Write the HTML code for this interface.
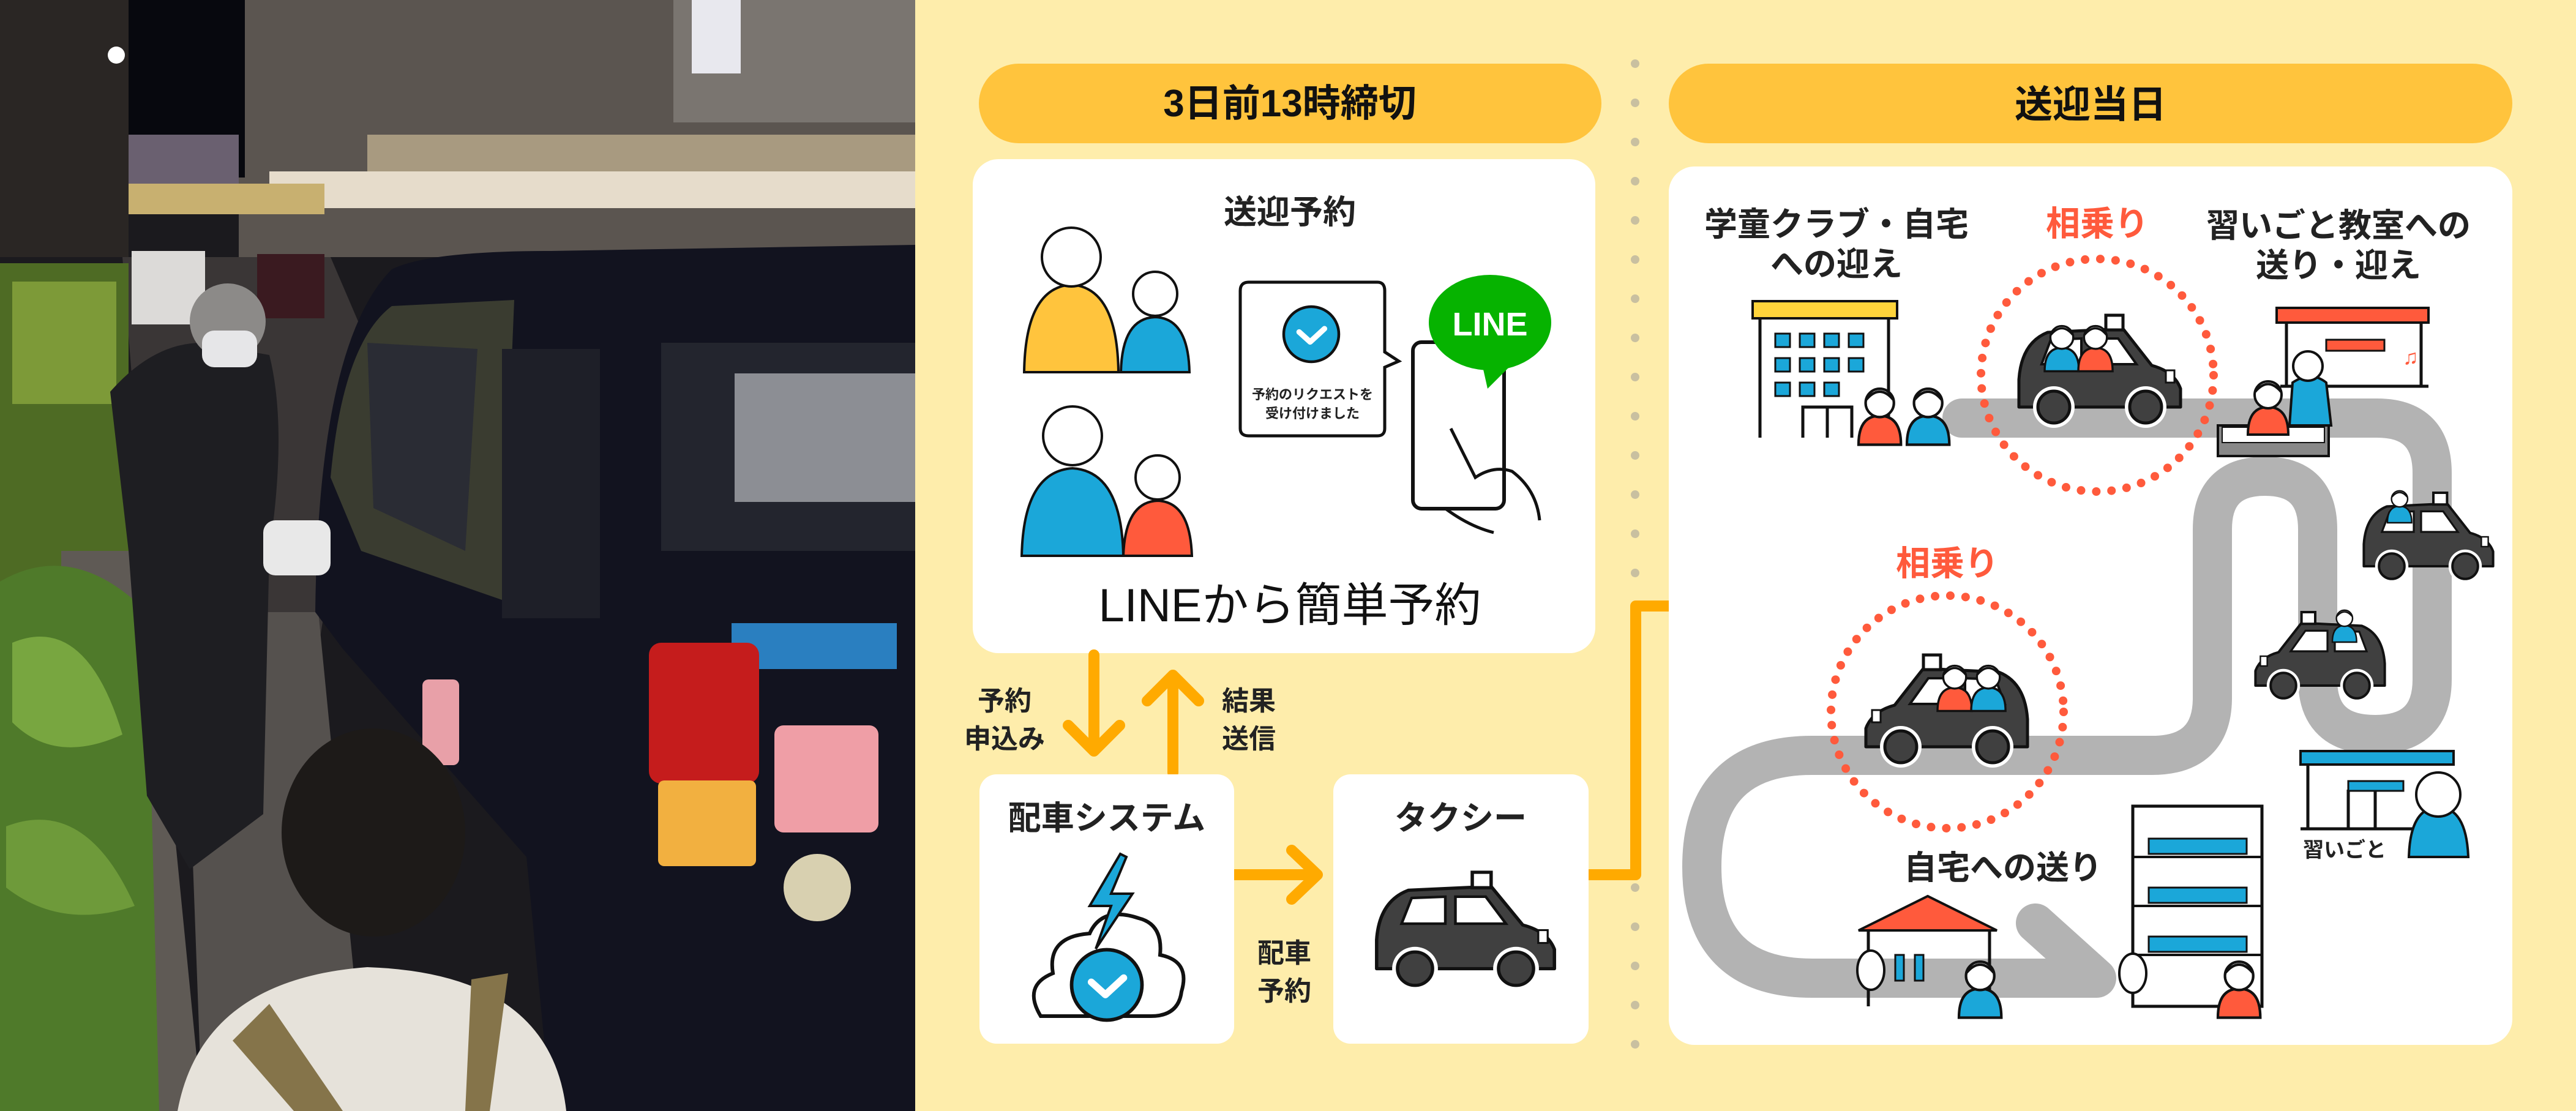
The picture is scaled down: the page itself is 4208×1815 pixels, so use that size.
<!DOCTYPE html>
<html><head><meta charset="utf-8"><style>
html,body{margin:0;padding:0;width:4208px;height:1815px;overflow:hidden;background:#FEEDAB}
svg{display:block}
text{font-family:"Liberation Sans","Noto Sans CJK JP",sans-serif;font-weight:bold}
text.n{font-weight:normal}
</style></head><body>
<svg width="4208" height="1815" viewBox="0 0 4208 1815" xmlns="http://www.w3.org/2000/svg">
<defs>
<g id="car">
 <path d="M8,150 L8,105 Q12,45 55,28 L178,22 L225,82 Q262,92 272,120 L272,150 Z" fill="#404040" stroke="#111" stroke-width="5" stroke-linejoin="round"/>
 <rect x="150" y="0" width="28" height="24" fill="#fff" stroke="#111" stroke-width="5"/>
 <path d="M60,40 L110,38 L110,80 L45,80 Z" fill="#fff" stroke="#111" stroke-width="4"/>
 <path d="M125,38 L170,38 L200,80 L125,80 Z" fill="#fff" stroke="#111" stroke-width="4"/>
 <rect x="248" y="90" width="14" height="20" fill="#fff" stroke="#111" stroke-width="3"/>
 <circle cx="65" cy="150" r="34" fill="#fff"/><circle cx="65" cy="150" r="26" fill="#404040" stroke="#111" stroke-width="5"/>
 <circle cx="215" cy="150" r="34" fill="#fff"/><circle cx="215" cy="150" r="26" fill="#404040" stroke="#111" stroke-width="5"/>
</g>
<g id="kid">
 <path d="M0,90 Q0,45 33,45 Q66,45 66,90 Z" fill="currentColor" stroke="#111" stroke-width="4"/>
 <circle cx="33" cy="25" r="22" fill="#fff" stroke="#111" stroke-width="4"/>
 <path d="M12,20 Q33,-5 54,20" fill="none" stroke="#111" stroke-width="4"/>
</g>
<g id="check"><circle r="50" fill="#1BA7D9" stroke="#111" stroke-width="5"/><path d="M-22,-4 L-2,14 L24,-10" fill="none" stroke="#fff" stroke-width="10" stroke-linecap="round" stroke-linejoin="round"/></g>
</defs>

<!-- PHOTO -->
<rect x="0" y="0" width="1495" height="1815" fill="#1b1a1e"/>
<rect x="390" y="0" width="1105" height="420" fill="#5b5550"/>
<rect x="1100" y="0" width="395" height="200" fill="#7a7570"/>
<rect x="1130" y="0" width="80" height="120" fill="#e8e8ee"/>
<rect x="600" y="220" width="895" height="120" fill="#a89a80"/>
<rect x="440" y="280" width="1055" height="60" fill="#e6dccb"/>
<rect x="200" y="0" width="200" height="290" fill="#07080e"/>
<rect x="210" y="220" width="180" height="120" fill="#6a6070"/>
<rect x="200" y="300" width="330" height="50" fill="#c8b070"/>
<rect x="0" y="0" width="210" height="420" fill="#2a2624"/>
<circle cx="190" cy="90" r="14" fill="#fff"/>
<polygon points="200,420 540,420 600,560 520,1060 250,1060" fill="#3a3636"/>
<rect x="215" y="410" width="120" height="120" fill="#dcdad8"/>
<rect x="420" y="415" width="110" height="105" fill="#3a1a20"/>
<rect x="0" y="430" width="210" height="560" fill="#4e6b24"/>
<rect x="20" y="460" width="170" height="200" fill="#7d9a38"/>
<polygon points="100,900 240,900 330,1815 100,1815" fill="#5f5a55"/>
<polygon points="300,1000 520,1000 600,1815 330,1815" fill="#55514e"/>
<path d="M0,950 Q120,880 240,1000 L260,1815 L0,1815 Z" fill="#4f7a2a"/>
<path d="M20,1050 Q140,1000 200,1200 Q90,1250 20,1180 Z" fill="#78a640"/>
<path d="M10,1350 Q140,1300 220,1480 Q100,1520 10,1450 Z" fill="#6e9a3a"/>
<path d="M515,1000 Q520,560 640,440 Q700,410 900,410 L1495,400 L1495,1815 L900,1815 L860,1400 L560,1060 Z" fill="#12131f"/>
<path d="M540,780 Q560,560 640,500 L840,490 L820,980 L590,900 Z" fill="#3a3c30"/>
<path d="M600,560 L780,570 L760,900 L610,830 Z" fill="#2a2c34"/>
<rect x="820" y="570" width="160" height="440" fill="#1e1f28"/>
<rect x="1080" y="560" width="415" height="340" fill="#23252e"/>
<rect x="1200" y="610" width="295" height="210" fill="#8c8e94"/>
<rect x="1195" y="1018" width="270" height="75" fill="#2a7fc0"/>
<rect x="1060" y="1050" width="180" height="230" rx="20" fill="#c51c1c"/>
<rect x="1075" y="1275" width="160" height="140" rx="10" fill="#f2b040"/>
<rect x="1265" y="1185" width="170" height="175" rx="15" fill="#ef9ea6"/>
<circle cx="1335" cy="1450" r="55" fill="#d8d0b0"/>
<rect x="690" y="1110" width="60" height="140" rx="10" fill="#e8a0a8"/>
<path d="M180,640 Q250,560 330,560 L440,580 Q470,700 440,900 L430,1330 L310,1420 L240,1300 L210,900 Z" fill="#1e1e22"/>
<circle cx="372" cy="525" r="62" fill="#8c8a88"/>
<rect x="330" y="540" width="90" height="60" rx="20" fill="#e6e6e8"/>
<rect x="430" y="850" width="110" height="90" rx="20" fill="#e8e8e8"/>
<path d="M290,1815 Q330,1600 600,1580 Q900,1590 925,1815 Z" fill="#e6e2da"/>
<path d="M380,1700 L440,1640 L560,1815 L480,1815 Z" fill="#85744a"/>
<path d="M770,1600 L830,1590 L800,1815 L760,1815 Z" fill="#85744a"/>
<ellipse cx="610" cy="1360" rx="150" ry="170" fill="#1d1a18"/>

<!-- DIAGRAM -->
<rect x="1495" y="0" width="2713" height="1815" fill="#FEEDAB"/>
<g fill="#C9C0A0">
<circle cx="2671" cy="104" r="7"/><circle cx="2671" cy="168" r="7"/><circle cx="2671" cy="232" r="7"/><circle cx="2671" cy="296" r="7"/><circle cx="2671" cy="360" r="7"/><circle cx="2671" cy="424" r="7"/><circle cx="2671" cy="488" r="7"/><circle cx="2671" cy="552" r="7"/><circle cx="2671" cy="616" r="7"/><circle cx="2671" cy="680" r="7"/><circle cx="2671" cy="744" r="7"/><circle cx="2671" cy="808" r="7"/><circle cx="2671" cy="872" r="7"/><circle cx="2671" cy="936" r="7"/><circle cx="2671" cy="1450" r="7"/><circle cx="2671" cy="1514" r="7"/><circle cx="2671" cy="1578" r="7"/><circle cx="2671" cy="1642" r="7"/><circle cx="2671" cy="1706" r="7"/>
</g>
<rect x="1599" y="104" width="1017" height="130" rx="65" fill="#FFC43D"/>
<text x="2107" y="190" font-size="62" text-anchor="middle" fill="#111">3日前13時締切</text>
<rect x="2726" y="104" width="1378" height="130" rx="65" fill="#FFC43D"/>
<text x="3415" y="192" font-size="62" text-anchor="middle" fill="#111">送迎当日</text>

<rect x="1589" y="260" width="1017" height="807" rx="42" fill="#fff"/>
<text x="2107" y="365" font-size="54" text-anchor="middle" fill="#222">送迎予約</text>
<text class="n" x="2107" y="1015" font-size="76" text-anchor="middle" fill="#111">LINEから簡単予約</text>
<g stroke="#111" stroke-width="4">
<path d="M1673,608 Q1675,470 1750,465 Q1825,470 1827,608 Z" fill="#FFC43D"/>
<circle cx="1750" cy="420" r="48" fill="#fff"/>
<path d="M1831,608 Q1833,520 1887,518 Q1941,520 1943,608 Z" fill="#1BA7D9"/>
<circle cx="1887" cy="480" r="36" fill="#fff"/>
<path d="M1669,908 Q1672,770 1752,765 Q1832,770 1835,908 Z" fill="#1BA7D9"/>
<circle cx="1752" cy="712" r="48" fill="#fff"/>
<path d="M1835,908 Q1838,820 1891,818 Q1944,820 1947,908 Z" fill="#FF5A3C"/>
<circle cx="1891" cy="780" r="36" fill="#fff"/>
</g>
<path d="M2040,461 L2250,461 Q2262,461 2262,475 L2262,575 L2285,590 L2262,600 L2262,700 Q2262,712 2250,712 L2040,712 Q2026,712 2026,700 L2026,475 Q2026,461 2040,461 Z" fill="#fff" stroke="#111" stroke-width="5"/>
<use href="#check" transform="translate(2142,546) scale(0.9)"/>
<text x="2144" y="652" font-size="22" text-anchor="middle" fill="#222">予約のリクエストを</text>
<text x="2144" y="683" font-size="22" text-anchor="middle" fill="#222">受け付けました</text>
<rect x="2308" y="559" width="149" height="272" rx="14" fill="#fff" stroke="#111" stroke-width="6"/>
<path d="M2370,700 L2410,780 Q2440,760 2470,770 Q2510,800 2515,850 M2360,830 Q2400,860 2440,870" fill="none" stroke="#111" stroke-width="5"/>
<ellipse cx="2434" cy="527" rx="100" ry="78" fill="#06B300"/>
<path d="M2420,590 L2430,635 L2475,590 Z" fill="#06B300"/>
<text x="2434" y="548" font-size="54" text-anchor="middle" fill="#fff">LINE</text>

<g stroke="#FFAA00" stroke-width="18" fill="none" stroke-linecap="round" stroke-linejoin="round">
<path d="M1787,1070 L1787,1225 M1745,1185 L1787,1227 L1829,1185"/>
<path d="M1916,1262 L1916,1105 M1874,1145 L1916,1103 L1958,1145"/>
<path d="M2016,1429 L2150,1429 M2110,1389 L2152,1429 L2110,1469"/>
<path d="M2595,1429 L2672,1429 L2672,990 L2785,990 M2745,950 L2787,990 L2745,1030"/>
</g>
<text x="1641" y="1160" font-size="44" text-anchor="middle" fill="#222">予約</text>
<text x="1641" y="1222" font-size="44" text-anchor="middle" fill="#222">申込み</text>
<text x="2040" y="1160" font-size="44" text-anchor="middle" fill="#222">結果</text>
<text x="2040" y="1222" font-size="44" text-anchor="middle" fill="#222">送信</text>
<text x="2098" y="1572" font-size="44" text-anchor="middle" fill="#222">配車</text>
<text x="2098" y="1634" font-size="44" text-anchor="middle" fill="#222">予約</text>

<rect x="1600" y="1265" width="416" height="440" rx="28" fill="#fff"/>
<text x="1808" y="1355" font-size="54" text-anchor="middle" fill="#222">配車システム</text>
<path d="M1700,1660 Q1670,1610 1720,1590 Q1710,1530 1780,1525 Q1800,1480 1860,1500 Q1900,1510 1895,1560 Q1945,1570 1930,1620 Q1925,1660 1880,1660 Z" fill="#fff" stroke="#111" stroke-width="6"/>
<path d="M1830,1395 L1780,1480 L1815,1480 L1790,1550 L1850,1460 L1815,1460 L1840,1400 Z" fill="#1BA7D9" stroke="#111" stroke-width="4"/>
<use href="#check" transform="translate(1808,1609) scale(1.15)"/>

<rect x="2178" y="1265" width="417" height="440" rx="28" fill="#fff"/>
<text x="2386" y="1355" font-size="54" text-anchor="middle" fill="#222">タクシー</text>
<use href="#car" transform="translate(2240,1425) scale(1.1,1.05)"/>

<rect x="2726" y="272" width="1378" height="1435" rx="42" fill="#fff"/>
<path d="M3205,683 L3883,683 Q3973,683 3973,773 L3973,1110 Q3973,1200 3880,1200 Q3786,1200 3786,1110 L3786,865 Q3786,778 3700,778 Q3614,778 3614,865 L3614,1140 Q3614,1234 3515,1234 L2960,1234 Q2780,1234 2780,1416 Q2780,1598 2960,1598 L3425,1598 L3325,1508" fill="none" stroke="#B3B3B3" stroke-width="64" stroke-linecap="round" stroke-linejoin="round"/>

<text x="3000" y="385" font-size="54" text-anchor="middle" fill="#222">学童クラブ・自宅</text>
<text x="3000" y="450" font-size="54" text-anchor="middle" fill="#222">への迎え</text>
<text x="3426" y="385" font-size="56" text-anchor="middle" fill="#FF5A3C">相乗り</text>
<text x="3820" y="387" font-size="54" text-anchor="middle" fill="#222">習いごと教室への</text>
<text x="3820" y="452" font-size="54" text-anchor="middle" fill="#222">送り・迎え</text>
<text x="3181" y="940" font-size="56" text-anchor="middle" fill="#FF5A3C">相乗り</text>
<text x="3272" y="1436" font-size="54" text-anchor="middle" fill="#222">自宅への送り</text>
<text x="3830" y="1400" font-size="34" text-anchor="middle" fill="#222">習いごと</text>

<circle cx="3426" cy="613" r="190" fill="none" stroke="#FF5A3C" stroke-width="14" stroke-dasharray="0 25" stroke-linecap="round"/>
<circle cx="3181" cy="1163" r="190" fill="none" stroke="#FF5A3C" stroke-width="14" stroke-dasharray="0 25" stroke-linecap="round"/>

<rect x="2863" y="492" width="236" height="28" fill="#FFD43B" stroke="#111" stroke-width="4"/>
<path d="M2875,520 L2875,715 M3085,520 L3085,715 M2945,715 L2945,665 L3025,665 L3025,715 M2985,665 L2985,715" stroke="#111" stroke-width="5" fill="none"/>
<g fill="#1BA7D9" stroke="#111" stroke-width="3">
<rect x="2900" y="545" width="24" height="22"/><rect x="2940" y="545" width="24" height="22"/><rect x="2980" y="545" width="24" height="22"/><rect x="3020" y="545" width="24" height="22"/>
<rect x="2900" y="585" width="24" height="22"/><rect x="2940" y="585" width="24" height="22"/><rect x="2980" y="585" width="24" height="22"/><rect x="3020" y="585" width="24" height="22"/>
<rect x="2900" y="625" width="24" height="22"/><rect x="2940" y="625" width="24" height="22"/><rect x="2980" y="625" width="24" height="22"/>
</g>
<use href="#kid" color="#FF5A3C" transform="translate(3036,632) scale(1.05)"/>
<use href="#kid" color="#1BA7D9" transform="translate(3115,632) scale(1.05)"/>

<use href="#car" transform="translate(3290,515)"/>
<use href="#kid" color="#1BA7D9" transform="translate(3340,530) scale(0.85)"/>
<use href="#kid" color="#FF5A3C" transform="translate(3395,530) scale(0.85)"/>
<use href="#car" transform="translate(3320,1070) scale(-1,1)"/>
<use href="#kid" color="#FF5A3C" transform="translate(3165,1085) scale(0.85)"/>
<use href="#kid" color="#1BA7D9" transform="translate(3220,1085) scale(0.85)"/>
<use href="#car" transform="translate(3855,805) scale(0.8)"/>
<use href="#kid" color="#1BA7D9" transform="translate(3900,800) scale(0.6)"/>
<use href="#car" transform="translate(3902,1000) scale(-0.8,0.8)"/>
<use href="#kid" color="#1BA7D9" transform="translate(3810,995) scale(0.6)"/>

<rect x="3719" y="503" width="248" height="24" fill="#FF5A3C" stroke="#111" stroke-width="4"/>
<path d="M3735,527 L3735,631 M3955,527 L3955,631 M3725,631 L3967,631" stroke="#111" stroke-width="5" fill="none"/>
<rect x="3800" y="555" width="95" height="18" fill="#FF5A3C" stroke="#111" stroke-width="3"/>
<text x="3925" y="595" font-size="34" fill="#FF5A3C">♫</text>
<rect x="3623" y="695" width="181" height="50" fill="#888" stroke="#111" stroke-width="4"/>
<rect x="3630" y="698" width="167" height="25" fill="#fff" stroke="#111" stroke-width="2"/>
<use href="#kid" color="#FF5A3C" transform="translate(3672,620) scale(1.0)"/>
<path d="M3740,695 L3745,625 Q3775,605 3800,625 L3808,695 Z" fill="#1BA7D9" stroke="#111" stroke-width="4"/>
<circle cx="3770" cy="598" r="24" fill="#fff" stroke="#111" stroke-width="4"/>

<rect x="3758" y="1227" width="250" height="22" fill="#1BA7D9" stroke="#111" stroke-width="4"/>
<path d="M3770,1249 L3770,1354 M3758,1354 L3990,1354 M3836,1290 L3836,1354 M3880,1290 L3880,1354" stroke="#111" stroke-width="5" fill="none"/>
<rect x="3836" y="1276" width="90" height="16" fill="#1BA7D9" stroke="#111" stroke-width="3"/>
<path d="M3935,1400 Q3937,1320 3983,1318 Q4029,1320 4032,1400 Z" fill="#1BA7D9" stroke="#111" stroke-width="4"/>
<circle cx="3983" cy="1298" r="36" fill="#fff" stroke="#111" stroke-width="4"/>

<polygon points="3036,1520 3149,1464 3262,1520" fill="#FF5A3C" stroke="#111" stroke-width="4"/>
<path d="M3052,1520 L3052,1644 M3250,1520 L3250,1644" stroke="#111" stroke-width="5"/>
<rect x="3096" y="1560" width="14" height="42" fill="#1BA7D9" stroke="#111" stroke-width="3"/>
<rect x="3128" y="1560" width="14" height="42" fill="#1BA7D9" stroke="#111" stroke-width="3"/>
<ellipse cx="3056" cy="1585" rx="22" ry="32" fill="#fff" stroke="#111" stroke-width="4"/>
<use href="#kid" color="#1BA7D9" transform="translate(3200,1568) scale(1.05)"/>

<rect x="3484" y="1317" width="211" height="327" fill="#fff" stroke="#111" stroke-width="5"/>
<path d="M3484,1400 L3695,1400 M3484,1480 L3695,1480 M3484,1560 L3695,1560" stroke="#111" stroke-width="4"/>
<rect x="3510" y="1370" width="160" height="25" fill="#1BA7D9" stroke="#111" stroke-width="3"/>
<rect x="3510" y="1450" width="160" height="25" fill="#1BA7D9" stroke="#111" stroke-width="3"/>
<rect x="3510" y="1530" width="160" height="25" fill="#1BA7D9" stroke="#111" stroke-width="3"/>
<ellipse cx="3484" cy="1590" rx="22" ry="32" fill="#fff" stroke="#111" stroke-width="4"/>
<use href="#kid" color="#FF5A3C" transform="translate(3623,1568) scale(1.05)"/>
</svg>
</body></html>
